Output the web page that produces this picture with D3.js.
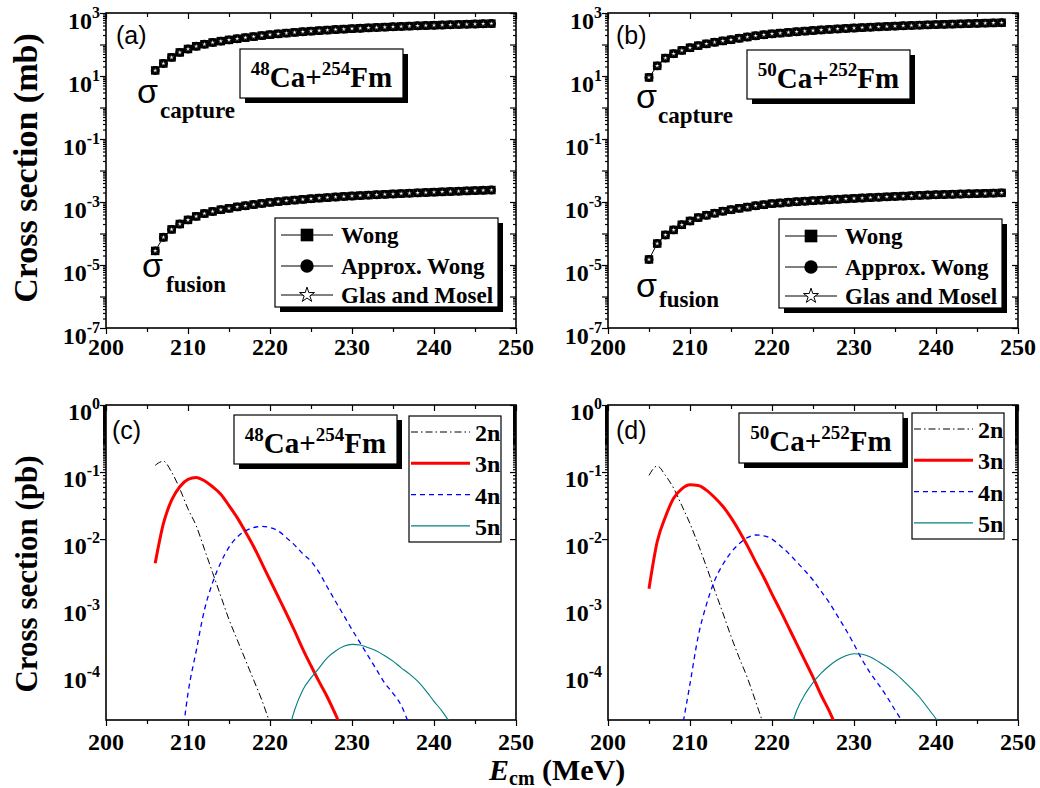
<!DOCTYPE html>
<html><head><meta charset="utf-8">
<script src="https://cdn.jsdelivr.net/npm/d3@7"></script>
<style>body{margin:0;background:#fff} svg{display:block}</style>
</head><body><svg id="chart" width="1040" height="788"></svg>
<script>
// ---------------- DATA ----------------
const eA = [206,207,208,209,210,211,212,213,214,215,216,217,218,219,220,221,222,223,224,225,226,227,228,229,230,231,232,233,234,235,236,237,238,239,240,241,242,243,244,245,246,247];
const captureA = [15,25,39,56,72,88,102,116,128,140,152,165,178,192,205,218,230,242,254,265,276,287,298,308,318,328,338,347,356,365,374,383,392,400,408,416,424,432,440,447,455,462];
const fusionA = [2.8e-5,7.6e-5,1.35e-4,2.0e-4,2.7e-4,3.5e-4,4.3e-4,5.0e-4,5.7e-4,6.3e-4,7.0e-4,7.6e-4,8.3e-4,9.0e-4,9.7e-4,1.03e-3,1.09e-3,1.15e-3,1.21e-3,1.27e-3,1.33e-3,1.38e-3,1.44e-3,1.5e-3,1.55e-3,1.6e-3,1.65e-3,1.7e-3,1.75e-3,1.8e-3,1.85e-3,1.9e-3,1.95e-3,2.0e-3,2.05e-3,2.1e-3,2.15e-3,2.2e-3,2.25e-3,2.3e-3,2.35e-3,2.4e-3];

const eB = [205,206,207,208,209,210,211,212,213,214,215,216,217,218,219,220,221,222,223,224,225,226,227,228,229,230,231,232,233,234,235,236,237,238,239,240,241,242,243,244,245,246,247,248];
const captureB = [9,21,37,51,65,79,92,105,118,130,142,158,173,189,204,218,230,242,254,266,278,290,301,312,323,334,344,354,364,374,384,393,402,411,420,429,437,445,453,461,469,477,484,492];
const fusionB = [1.5e-5,4.8e-5,9e-5,1.3e-4,1.9e-4,2.5e-4,3.2e-4,3.8e-4,4.4e-4,5.1e-4,5.7e-4,6.3e-4,6.9e-4,7.6e-4,8.2e-4,8.9e-4,9.3e-4,9.8e-4,1.02e-3,1.06e-3,1.1e-3,1.14e-3,1.18e-3,1.22e-3,1.26e-3,1.3e-3,1.34e-3,1.38e-3,1.42e-3,1.46e-3,1.5e-3,1.54e-3,1.58e-3,1.62e-3,1.66e-3,1.7e-3,1.73e-3,1.76e-3,1.79e-3,1.82e-3,1.85e-3,1.88e-3,1.91e-3,1.95e-3];

// panel (c): 48Ca+254Fm evaporation residues (pb)
const e2nC = [206,207,208,209,210,211,212,213,214,215,216,217,218,219,220,221];
const s2nC = [0.126,0.145,0.1,0.0562,0.0282,0.0158,7.08e-3,3.16e-3,1.41e-3,6.31e-4,3.16e-4,1.58e-4,7.94e-5,3.98e-5,1.78e-5,7.94e-6];
const e3nC = [206,207,208,209,210,211,212,213,214,215,216,217,218,219,220,221,222,223,224,225,226,227,228,229];
const s3nC = [4.37e-3,0.017,0.038,0.0603,0.0776,0.0832,0.0741,0.0603,0.0468,0.0316,0.0209,0.0129,7.76e-3,4.37e-3,2.45e-3,1.38e-3,7.76e-4,4.27e-4,2.29e-4,1.29e-4,7.41e-5,4.37e-5,2.4e-5,1.26e-5];
const e4nC = [209,210,211,212,213,214,215,216,217,218,219,220,221,222,223,224,225,226,227,228,229,230,231,232,233,234,235,236,237];
const s4nC = [5.01e-6,5.01e-5,2.14e-4,8.71e-4,2.24e-3,4.47e-3,7.59e-3,0.0107,0.0132,0.0148,0.0155,0.0148,0.0132,0.0105,8.13e-3,6.03e-3,4.68e-3,3.16e-3,1.91e-3,1.17e-3,7.24e-4,4.47e-4,2.82e-4,1.78e-4,1.12e-4,7.08e-5,5.01e-5,3.31e-5,1.66e-5];
const e5nC = [222,223,224,225,226,227,228,229,230,231,232,233,234,235,236,237,238,239,240,241,242];
const s5nC = [1.0e-5,2.82e-5,5.62e-5,8.51e-5,1.2e-4,1.7e-4,2.14e-4,2.51e-4,2.69e-4,2.63e-4,2.4e-4,2.14e-4,1.82e-4,1.51e-4,1.2e-4,9.77e-5,7.59e-5,5.5e-5,3.8e-5,2.69e-5,1.78e-5];

// panel (d): 50Ca+252Fm
const e2nD = [205,206,207,208,209,210,211,212,213,214,215,216,217,218,219];
const s2nD = [0.0891,0.123,0.0891,0.0575,0.0316,0.017,8.32e-3,3.89e-3,1.74e-3,7.94e-4,3.55e-4,1.7e-4,8.51e-5,3.8e-5,1.66e-5];
const e3nD = [205,206,207,208,209,210,211,212,213,214,215,216,217,218,219,220,221,222,223,224,225,226,227,228];
const s3nD = [1.82e-3,9.12e-3,0.0214,0.0407,0.0562,0.0646,0.0631,0.0537,0.0417,0.0309,0.0209,0.0132,7.94e-3,4.57e-3,2.69e-3,1.51e-3,8.71e-4,4.9e-4,2.75e-4,1.55e-4,8.71e-5,4.68e-5,2.69e-5,1.41e-5];
const e4nD = [209,210,211,212,213,214,215,216,217,218,219,220,221,222,223,224,225,226,227,228,229,230,231,232,233,234,235,236];
const s4nD = [1.41e-5,6.92e-5,3.55e-4,1.05e-3,2.4e-3,4.17e-3,6.31e-3,8.51e-3,0.0105,0.0115,0.0112,0.01,7.94e-3,6.17e-3,4.57e-3,3.39e-3,2.45e-3,1.66e-3,1.12e-3,7.08e-4,4.47e-4,2.69e-4,1.58e-4,1.0e-4,6.76e-5,4.47e-5,2.82e-5,1.82e-5];
const e5nD = [222,223,224,225,226,227,228,229,230,231,232,233,234,235,236,237,238,239,240,241];
const s5nD = [1.12e-5,2.75e-5,4.79e-5,7.24e-5,1.0e-4,1.29e-4,1.58e-4,1.82e-4,1.95e-4,1.91e-4,1.74e-4,1.48e-4,1.23e-4,1.0e-4,7.76e-5,5.89e-5,4.37e-5,3.02e-5,2.09e-5,1.41e-5];

// ticks & labels
const xMajorTicks = [200,210,220,230,240,250];
const xMinorTicks = [205,215,225,235,245];
const topYDomain = [1e-7, 1e3];
const topYLabelTicks = [1e3,1e1,1e-1,1e-3,1e-5,1e-7];
const topYLabelExp = ["3","1","-1","-3","-5","-7"];
const botYDomain = [2e-5, 1];
const botYLabelTicks = [1,1e-1,1e-2,1e-3,1e-4];
const botYLabelExp = ["0","-1","-2","-3","-4"];
const legendTop = ["Wong","Approx. Wong","Glas and Mosel"];
const legendBot = ["2n","3n","4n","5n"];

// ---------------- DRAWING ----------------
const svg = d3.select("#chart");
const SERIF = "'Liberation Serif','Times New Roman',serif";
const SANS = "'Liberation Sans',Arial,sans-serif";

const panels = {
  a:{l:106,r:516,t:13,b:328,dom:topYDomain},
  b:{l:608,r:1018,t:13,b:328,dom:topYDomain},
  c:{l:106,r:516,t:405,b:720,dom:botYDomain},
  d:{l:608,r:1018,t:405,b:720,dom:botYDomain}
};

function makeScales(p){
  const x = d3.scaleLinear().domain([200,250]).range([p.l,p.r]);
  const y = d3.scaleLog().domain(p.dom).range([p.b,p.t]);
  return {x,y};
}

function drawAxes(p, s, labelTicks, labelExp, xLabOff, yLabOff){
  const g = svg.append("g");
  const isDec = v => Math.abs(Math.log10(v) - Math.round(Math.log10(v))) < 1e-9;
  const decades = s.y.ticks(100).filter(isDec);
  const minors = s.y.ticks(100).filter(v => !isDec(v));
  const mk = (axis, tr) => {
    const a = g.append("g").attr("transform", tr).call(axis);
    a.select(".domain").remove();
    a.selectAll("line").attr("stroke","#000").attr("stroke-width",1.2);
    a.selectAll("text").remove();
  };
  mk(d3.axisBottom(s.x).tickValues(xMajorTicks).tickSize(6).tickSizeOuter(0), `translate(0,${p.b})`);
  mk(d3.axisBottom(s.x).tickValues(xMinorTicks).tickSize(4).tickSizeOuter(0), `translate(0,${p.b})`);
  mk(d3.axisTop(s.x).tickValues(xMajorTicks).tickSize(-6).tickSizeOuter(0), `translate(0,${p.t})`);
  mk(d3.axisTop(s.x).tickValues(xMinorTicks).tickSize(-4).tickSizeOuter(0), `translate(0,${p.t})`);
  mk(d3.axisLeft(s.y).tickValues(decades).tickSize(6).tickSizeOuter(0), `translate(${p.l},0)`);
  mk(d3.axisLeft(s.y).tickValues(minors).tickSize(3).tickSizeOuter(0), `translate(${p.l},0)`);
  mk(d3.axisRight(s.y).tickValues(decades).tickSize(-6).tickSizeOuter(0), `translate(${p.r},0)`);
  mk(d3.axisRight(s.y).tickValues(minors).tickSize(-3).tickSizeOuter(0), `translate(${p.r},0)`);
  g.append("rect").attr("x",p.l).attr("y",p.t).attr("width",p.r-p.l).attr("height",p.b-p.t)
    .attr("fill","none").attr("stroke","#000").attr("stroke-width",1.6);
  xMajorTicks.forEach(v => {
    g.append("text").attr("x", s.x(v)).attr("y", p.b + xLabOff).attr("text-anchor","middle")
      .attr("font-family",SERIF).attr("font-weight","bold").attr("font-size",24).text(v);
  });
  labelTicks.forEach((v,i) => {
    const t = g.append("text").attr("x", p.l - 6).attr("y", s.y(v) + yLabOff).attr("text-anchor","end")
      .attr("font-family",SERIF).attr("font-weight","bold").attr("font-size",24);
    t.append("tspan").text("10");
    t.append("tspan").attr("font-size",16).attr("dy",-11).text(labelExp[i]);
  });
  return g;
}

function boxWithShadow(x,y,w,h,shadow){
  if (shadow) svg.append("rect").attr("x",x+5).attr("y",y+5).attr("width",w).attr("height",h).attr("fill","#000");
  svg.append("rect").attr("x",x).attr("y",y).attr("width",w).attr("height",h)
    .attr("fill","#fff").attr("stroke","#000").attr("stroke-width",1.2);
}

function reactionLabel(x,y,w,h,a1,a2){
  boxWithShadow(x,y,w,h,true);
  const t = svg.append("text").attr("x",x+w/2).attr("y",y+38).attr("text-anchor","middle")
    .attr("font-family",SERIF).attr("font-weight","bold").attr("font-size",29);
  t.append("tspan").attr("font-size",19).attr("dy",-12).text(a1);
  t.append("tspan").attr("dy",12).text("Ca+");
  t.append("tspan").attr("font-size",19).attr("dy",-12).text(a2);
  t.append("tspan").attr("dy",12).text("Fm");
}

function markers(g, px, py, sq, ci, st){
  g.append("path").attr("transform",`translate(${px},${py})`).attr("d", d3.symbol(d3.symbolSquare, sq)()).attr("fill","#000");
  g.append("path").attr("transform",`translate(${px},${py})`).attr("d", d3.symbol(d3.symbolCircle, ci)()).attr("fill","#000");
  g.append("path").attr("transform",`translate(${px},${py})`).attr("d", d3.symbol(d3.symbolStar, st)())
    .attr("fill","#fff").attr("stroke","#000").attr("stroke-width",0.4);
}

function drawScatter(s, xs, ys){
  const g = svg.append("g");
  const line = d3.line().x((d,i)=>s.x(xs[i])).y(d=>s.y(d));
  g.append("path").attr("d", line(ys)).attr("fill","none").attr("stroke","#000").attr("stroke-width",1);
  ys.forEach((v,i) => markers(g, s.x(xs[i]), s.y(v), 72, 62, 8));
}

function sigma(x, y, sub, sx, sy){
  svg.append("text").attr("x",x).attr("y",y).attr("font-family",SANS).attr("font-size",34).text("σ");
  svg.append("text").attr("x",sx).attr("y",sy).attr("font-family",SERIF).attr("font-weight","bold").attr("font-size",23).text(sub);
}

function panelTag(x,y,txt){
  svg.append("text").attr("x",x).attr("y",y).attr("font-family",SANS).attr("font-size",25).text(txt);
}

function topLegend(x,y){
  boxWithShadow(x,y,223,89,true);
  const rows = [17,48,77];
  legendTop.forEach((name,i) => {
    const cy = y + rows[i];
    svg.append("line").attr("x1",x+6).attr("x2",x+58).attr("y1",cy).attr("y2",cy).attr("stroke","#000").attr("stroke-width",1);
    const cx = x+32;
    if (i===0) svg.append("path").attr("transform",`translate(${cx},${cy})`).attr("d",d3.symbol(d3.symbolSquare,160)()).attr("fill","#000");
    if (i===1) svg.append("path").attr("transform",`translate(${cx},${cy})`).attr("d",d3.symbol(d3.symbolCircle,140)()).attr("fill","#000");
    if (i===2) svg.append("path").attr("transform",`translate(${cx},${cy})`).attr("d",d3.symbol(d3.symbolStar,70)()).attr("fill","#fff").attr("stroke","#000").attr("stroke-width",1);
    svg.append("text").attr("x",x+66).attr("y",cy+8).attr("font-family",SERIF).attr("font-weight","bold").attr("font-size",23).text(name);
  });
}

const curveStyles = [
  {stroke:"#000", w:1, dash:"7,3,1.5,3"},
  {stroke:"#ff0000", w:3, dash:null},
  {stroke:"#0000ff", w:1.3, dash:"5,4"},
  {stroke:"#008080", w:1.1, dash:null}
];

function bottomLegend(x,y){
  boxWithShadow(x,y,92,126,false);
  legendBot.forEach((name,i) => {
    const cy = y + 16 + i*31.3;
    const st = curveStyles[i];
    svg.append("line").attr("x1",x+2).attr("x2",x+61).attr("y1",cy).attr("y2",cy)
      .attr("stroke",st.stroke).attr("stroke-width",st.w).attr("stroke-dasharray",st.dash);
    svg.append("text").attr("x",x+66).attr("y",cy+9).attr("font-family",SERIF).attr("font-weight","bold").attr("font-size",24).text(name);
  });
}

function drawCurves(p, s, id, sets){
  svg.append("clipPath").attr("id",id).append("rect")
    .attr("x",p.l).attr("y",p.t).attr("width",p.r-p.l).attr("height",p.b-p.t);
  const g = svg.append("g").attr("clip-path",`url(#${id})`);
  sets.forEach((set,k) => {
    const [xs, ys] = set;
    const st = curveStyles[k];
    const line = d3.line().x((d,i)=>s.x(xs[i])).y(d=>s.y(d)).curve(d3.curveMonotoneX);
    g.append("path").attr("d", line(ys)).attr("fill","none").attr("stroke",st.stroke)
      .attr("stroke-width",st.w).attr("stroke-dasharray",st.dash).attr("stroke-linejoin","round");
  });
}

// Panel A
const sA = makeScales(panels.a);
drawAxes(panels.a, sA, topYLabelTicks, topYLabelExp, 27, 16);
drawScatter(sA, eA, captureA);
drawScatter(sA, eA, fusionA);
reactionLabel(240,49,163,49,"48","254");
topLegend(275,218);
panelTag(116,44,"(a)");
sigma(137,103,"capture",160,118);
sigma(142,277,"fusion",166,292);

// Panel B
const sB = makeScales(panels.b);
drawAxes(panels.b, sB, topYLabelTicks, topYLabelExp, 27, 16);
drawScatter(sB, eB, captureB);
drawScatter(sB, eB, fusionB);
reactionLabel(747,50,163,49,"50","252");
topLegend(779,219);
panelTag(616,44,"(b)");
sigma(636,108,"capture",658,123);
sigma(636,297,"fusion",659,307);

// Panel C
const sC = makeScales(panels.c);
drawAxes(panels.c, sC, botYLabelTicks, botYLabelExp, 30, 15);
drawCurves(panels.c, sC, "clipC", [[e2nC,s2nC],[e3nC,s3nC],[e4nC,s4nC],[e5nC,s5nC]]);
reactionLabel(234,415,163,49,"48","254");
bottomLegend(409,416);
panelTag(112,439,"(c)");

// Panel D
const sD = makeScales(panels.d);
drawAxes(panels.d, sD, botYLabelTicks, botYLabelExp, 30, 15);
drawCurves(panels.d, sD, "clipD", [[e2nD,s2nD],[e3nD,s3nD],[e4nD,s4nD],[e5nD,s5nD]]);
reactionLabel(739,413,164,50,"50","252");
bottomLegend(912,413);
panelTag(616,439,"(d)");

// Axis titles
svg.append("text").attr("transform","translate(37,168) rotate(-90)").attr("text-anchor","middle")
  .attr("font-family",SERIF).attr("font-weight","bold").attr("font-size",34).text("Cross section (mb)");
svg.append("text").attr("transform","translate(37,574) rotate(-90)").attr("text-anchor","middle")
  .attr("font-family",SERIF).attr("font-weight","bold").attr("font-size",31).text("Cross section (pb)");
const xt = svg.append("text").attr("x",489).attr("y",780).attr("font-family",SERIF).attr("font-weight","bold").attr("font-size",30);
xt.append("tspan").attr("font-style","italic").text("E");
xt.append("tspan").attr("font-size",20).attr("dy",5).text("cm");
xt.append("tspan").attr("dy",-5).text(" (MeV)");
</script></body></html>
